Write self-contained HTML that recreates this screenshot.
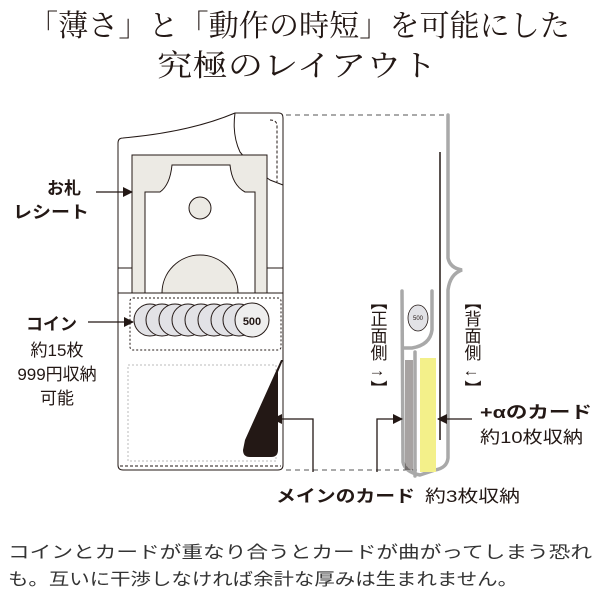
<!DOCTYPE html>
<html><head><meta charset="utf-8"><style>
html,body{margin:0;padding:0;background:#fff;}
svg{display:block;}
.s{font-family:"Liberation Serif","Noto Serif CJK SC",serif;}
.g{font-family:"Liberation Sans","Noto Sans CJK JP",sans-serif;}
</style></head><body>
<svg width="600" height="600" viewBox="0 0 600 600" xmlns="http://www.w3.org/2000/svg">
<defs><marker id="ah" markerWidth="10" markerHeight="10" refX="9" refY="5" orient="auto" markerUnits="userSpaceOnUse"><path d="M0,0 L10,5 L0,10 Z" fill="#231815"/></marker></defs>
<text class="s" x="28" y="36" font-size="30" fill="#231815" textLength="542" lengthAdjust="spacingAndGlyphs">「薄さ」と「動作の時短」を可能にした</text>
<text class="s" x="157" y="76" font-size="30" fill="#231815" textLength="280" lengthAdjust="spacingAndGlyphs">究極のレイアウト</text>

<!-- wallet -->
<g stroke="#231815" stroke-width="1" fill="none">
<path d="M118,143 Q118,138 123,138 Q190,132 235,113 L279,113 Q283,113 283,118 L283,465 Q283,470 278,470 L123,470 Q118,470 118,465 Z" fill="#fff"/>
<path d="M235,113 Q232,135 240,152 Q255,170 270,180 L283,185"/>
<path d="M270,120 Q277,120 277,126 L277,182" stroke-dasharray="3,2"/>
<rect x="132" y="155" width="135" height="138" fill="#eceae4"/>
<path d="M145,293 L145,192 L160,192 Q170,185 172,165 L230,165 Q232,185 245,192 L255,192 L255,293 Z" fill="#fff"/>
<circle cx="200" cy="208" r="11" fill="#eceae4"/>
<path d="M162,293 A38,38 0 0 1 238,293 Z" fill="#eceae4"/>
<line x1="118" y1="268" x2="132" y2="268"/><line x1="267" y1="268" x2="283" y2="268"/>
<line x1="118" y1="293" x2="283" y2="293"/>
<rect x="130" y="298" width="151" height="52" rx="3" stroke-dasharray="2,2"/>
</g>
<g stroke="#231815" stroke-width="1" fill="#e2e2e6">
<circle cx="150" cy="320" r="16"/><circle cx="162" cy="320" r="16"/><circle cx="175" cy="320" r="16"/><circle cx="188" cy="320" r="16"/><circle cx="201" cy="320" r="16"/><circle cx="214" cy="320" r="16"/><circle cx="227" cy="320" r="16"/><circle cx="239" cy="320" r="16"/>
<circle cx="252" cy="320" r="17" fill="#eee"/>
</g>
<text class="g" x="252" y="325" font-size="11" font-weight="bold" text-anchor="middle" fill="#231815">500</text>
<rect x="128" y="365" width="148" height="96" fill="none" stroke="#bbb" stroke-dasharray="2,2"/>
<path d="M281,360 L283,360 L278,372 L278,450 Q278,457 271,457 L250,457 Q243,457 243,450 L245,440 Z" fill="#231815"/>
<line x1="120" y1="466" x2="281" y2="466" stroke="#231815" stroke-dasharray="3,2"/>

<!-- dashed connectors -->
<line x1="286" y1="115" x2="446" y2="115" stroke="#555" stroke-dasharray="5,4"/>
<line x1="286" y1="470" x2="425" y2="470" stroke="#555" stroke-dasharray="5,4"/>

<!-- side view -->
<g fill="none" stroke="#a9a9a9" stroke-width="3.5" stroke-linecap="round">
<path d="M448,115 L448,258 Q450,268 462,270 Q450,274 448,290 L448,458 Q447,468 435,470 L420,475 Q405,472 403,462 L402,291"/>
<path d="M432,291 L432,330 Q430,345 412,348 L404,348"/>
<line x1="415" y1="352" x2="415" y2="476"/>
</g>
<rect x="420" y="358" width="16" height="114" fill="#f3f08a"/>
<line x1="440" y1="152" x2="440" y2="440" stroke="#231815" stroke-width="1.5"/>
<g stroke="#231815" stroke-width="0.8"><line x1="406" y1="360" x2="406" y2="470"/><line x1="408" y1="360" x2="408" y2="470"/><line x1="410" y1="360" x2="410" y2="470"/><line x1="412" y1="360" x2="412" y2="470"/></g>
<ellipse cx="418" cy="318" rx="10" ry="13" fill="#e2e2e6" stroke="#231815" stroke-width="0.8"/>
<text class="g" x="418" y="320" font-size="6" text-anchor="middle" fill="#231815">500</text>

<!-- arrows -->
<g stroke="#231815" stroke-width="1.3" fill="none" marker-end="url(#ah)">
<line x1="96" y1="192" x2="132" y2="192"/>
<line x1="88" y1="322" x2="133" y2="322"/>
<polyline points="313,472 313,419 273,419"/>
<polyline points="377,472 377,419 402,419"/>
<line x1="472" y1="419" x2="438" y2="419"/>
</g>

<!-- labels -->
<g class="g" fill="#231815">
<text x="47" y="194" font-size="17" font-weight="bold">お札</text>
<text x="13" y="218" font-size="17" font-weight="bold" textLength="76" lengthAdjust="spacingAndGlyphs">レシート</text>
<text x="26" y="330" font-size="17" font-weight="bold">コイン</text>
<text x="57" y="356" font-size="17" text-anchor="middle">約15枚</text>
<text x="57" y="380" font-size="17" text-anchor="middle">999円収納</text>
<text x="57" y="404" font-size="17" text-anchor="middle">可能</text>
<text x="480" y="418" font-size="17" font-weight="bold" textLength="112" lengthAdjust="spacingAndGlyphs">+αのカード</text>
<text x="480" y="443" font-size="17" textLength="103" lengthAdjust="spacingAndGlyphs">約10枚収納</text>
<text x="276" y="502" font-size="17" font-weight="bold" textLength="139" lengthAdjust="spacingAndGlyphs">メインのカード</text>
<text x="425" y="502" font-size="17" textLength="95" lengthAdjust="spacingAndGlyphs">約3枚収納</text>
<text x="377" y="293" font-size="17" writing-mode="tb" glyph-orientation-vertical="0" style="writing-mode:vertical-rl;text-orientation:upright">【正面側→】</text>
<text x="471" y="293" font-size="17" style="writing-mode:vertical-rl;text-orientation:upright">【背面側←】</text>
<text x="8" y="558" font-size="17" fill="#333" textLength="584" lengthAdjust="spacingAndGlyphs">コインとカードが重なり合うとカードが曲がってしまう恐れ</text>
<text x="8" y="585" font-size="17" fill="#333" textLength="510" lengthAdjust="spacingAndGlyphs">も。互いに干渉しなければ余計な厚みは生まれません。</text>
</g>
</svg>
</body></html>
